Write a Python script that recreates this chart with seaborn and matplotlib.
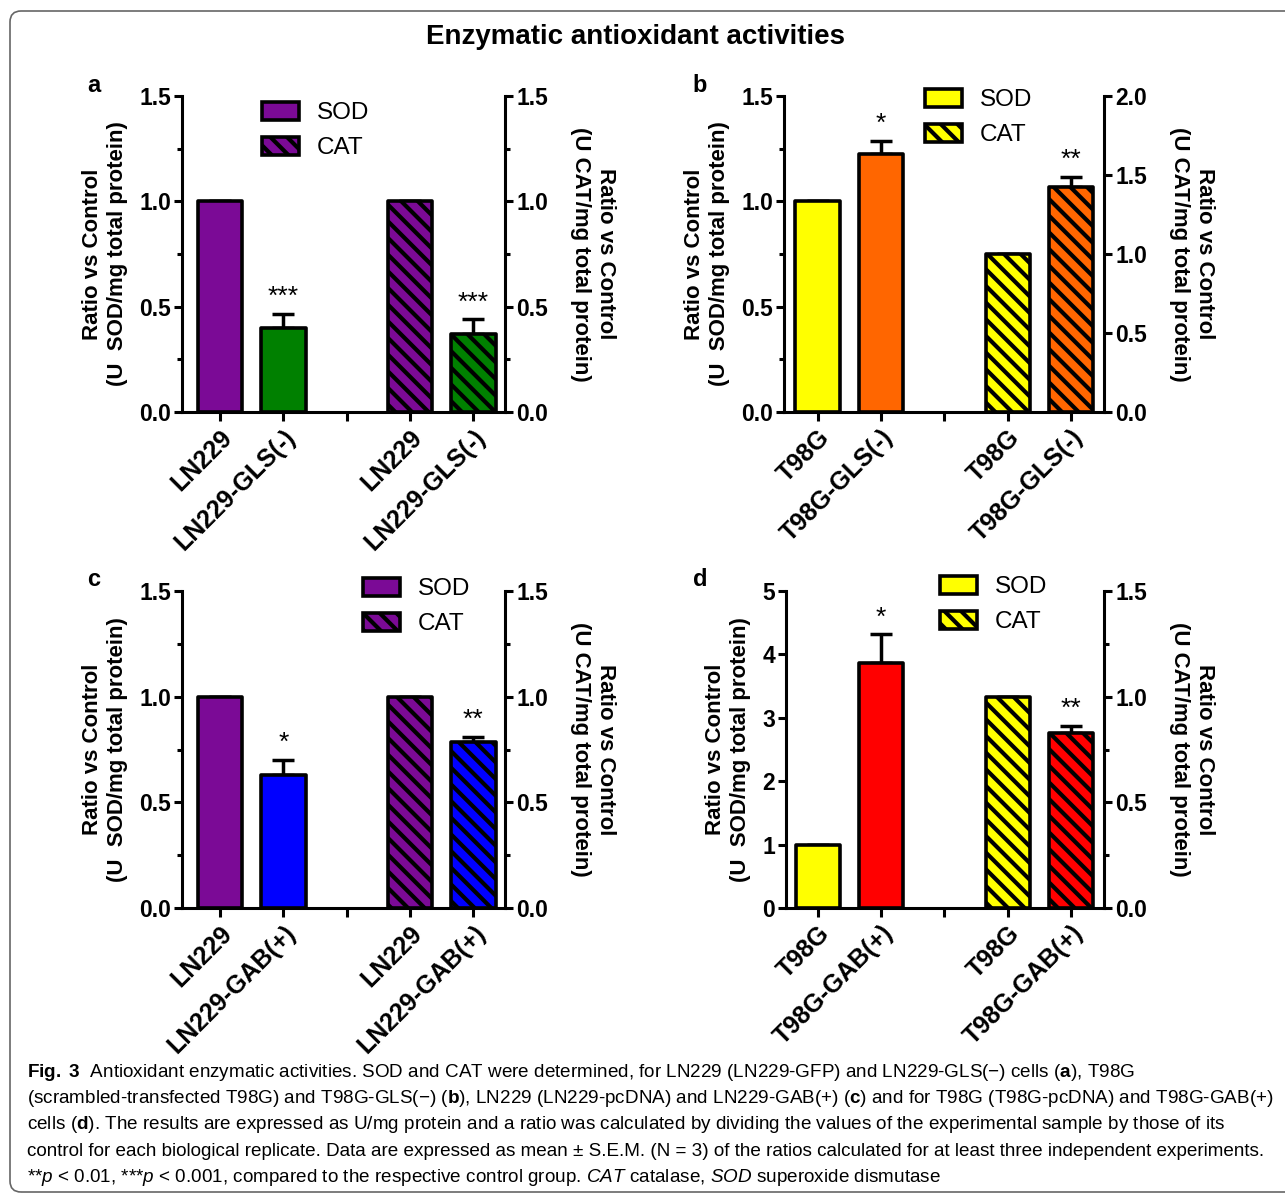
import matplotlib
matplotlib.use("Agg")
import numpy as np
import pandas as pd
import matplotlib.pyplot as plt
import seaborn as sns
from matplotlib.patches import Patch, FancyBboxPatch
from matplotlib.ticker import MultipleLocator, FormatStrFormatter
from matplotlib.transforms import IdentityTransform

# ---------------- data ----------------
a_groups = ["LN229", "LN229-GLS(-)"]
a_sod = [1.00, 0.40]
a_sod_sem = [0.00, 0.065]
a_cat = [1.00, 0.37]
a_cat_sem = [0.00, 0.07]
a_colors = ["#7B0A96", "#008000"]
a_stars = ["***", "***"]

b_groups = ["T98G", "T98G-GLS(-)"]
b_sod = [1.00, 1.225]
b_sod_sem = [0.00, 0.062]
b_cat = [1.00, 1.425]
b_cat_sem = [0.00, 0.063]
b_colors = ["#FFFF00", "#FF6600"]
b_stars = ["*", "**"]

c_groups = ["LN229", "LN229-GAB(+)"]
c_sod = [1.00, 0.63]
c_sod_sem = [0.00, 0.072]
c_cat = [1.00, 0.785]
c_cat_sem = [0.00, 0.025]
c_colors = ["#7B0A96", "#0000FF"]
c_stars = ["*", "**"]

d_groups = ["T98G", "T98G-GAB(+)"]
d_sod = [1.00, 3.87]
d_sod_sem = [0.00, 0.45]
d_cat = [1.00, 0.826]
d_cat_sem = [0.00, 0.035]
d_colors = ["#FFFF00", "#FF0000"]
d_stars = ["*", "**"]

legend_labels = ["SOD", "CAT"]
left_ylabel = "Ratio vs Control\n(U  SOD/mg total protein)"
right_ylabel = "Ratio vs Control\n(U CAT/mg total protein)"
title_text = "Enzymatic antioxidant activities"

caption_lines = [
    r"$\mathbf{Fig.\ 3}$  Antioxidant enzymatic activities. SOD and CAT were determined, for LN229 (LN229-GFP) and LN229-GLS(−) cells ($\mathbf{a}$), T98G",
    r"(scrambled-transfected T98G) and T98G-GLS(−) ($\mathbf{b}$), LN229 (LN229-pcDNA) and LN229-GAB(+) ($\mathbf{c}$) and for T98G (T98G-pcDNA) and T98G-GAB(+)",
    r"cells ($\mathbf{d}$). The results are expressed as U/mg protein and a ratio was calculated by dividing the values of the experimental sample by those of its",
    r"control for each biological replicate. Data are expressed as mean ± S.E.M. (N = 3) of the ratios calculated for at least three independent experiments.",
    r"**$\mathit{p}$ < 0.01, ***$\mathit{p}$ < 0.001, compared to the respective control group. $\mathit{CAT}$ catalase, $\mathit{SOD}$ superoxide dismutase",
]

# ---------------- style ----------------
sns.set_style("ticks")
plt.rcParams.update({
    "font.family": ["Liberation Sans", "DejaVu Sans"],
    "font.weight": "bold",
    "axes.labelweight": "bold",
    "axes.linewidth": 2.2,
    "axes.edgecolor": "black",
    "axes.labelcolor": "black",
    "text.color": "black",
    "xtick.color": "black",
    "ytick.color": "black",
    "hatch.linewidth": 3.0,
    "hatch.color": "black",
    "mathtext.fontset": "custom",
    "mathtext.rm": "Liberation Sans:weight=normal",
    "mathtext.it": "Liberation Sans:style=italic:weight=normal",
    "mathtext.bf": "Liberation Sans:weight=bold",
})

W, H = 1285, 1196
fig = plt.figure(figsize=(W / 100, H / 100), dpi=100)
fig.patch.set_facecolor("white")


def rect(l, t, r, b):
    return [l / W, 1 - b / H, (r - l) / W, (b - t) / H]


LW = 2.2
BAR_LW = 2.6
HATCH = "\\\\"
sod_pos = [0, 1]
cat_pos = [3, 4]


def panel(rc, letter, letter_xy, groups, sod, sod_sem, cat, cat_sem, colors, stars,
          lmax, lmaj, lmin, lfmt, rmax, rmaj, rmin, xlim, leg_xy):
    ax = fig.add_axes(rect(*rc))
    ax2 = ax.twinx()
    sns.barplot(x=sod_pos, y=sod, hue=groups, palette=colors, native_scale=True,
                dodge=False, width=0.7, edgecolor="black", linewidth=BAR_LW,
                saturation=1, errorbar=None, legend=False, ax=ax)
    sns.barplot(x=cat_pos, y=cat, hue=groups, palette=colors, native_scale=True,
                dodge=False, width=0.7, edgecolor="black", linewidth=BAR_LW,
                saturation=1, errorbar=None, legend=False, ax=ax2)
    for p in ax2.patches:
        p.set_hatch(HATCH)
    for p in list(ax.patches) + list(ax2.patches):
        p.set_joinstyle("round")

    for a_, pos, vals, errs in ((ax, sod_pos, sod, sod_sem), (ax2, cat_pos, cat, cat_sem)):
        a_.errorbar(pos, vals, yerr=[np.zeros(len(errs)), errs], fmt="none",
                    ecolor="black", elinewidth=LW + 0.3, capsize=8, capthick=LW + 0.3,
                    zorder=0.5)
    ax.annotate(stars[0], xy=(sod_pos[1], sod[1] + sod_sem[1]), xytext=(0, 7),
                textcoords="offset points", ha="center", va="baseline",
                fontsize=19, fontweight="normal")
    ax2.annotate(stars[1], xy=(cat_pos[1], cat[1] + cat_sem[1]), xytext=(0, 7),
                 textcoords="offset points", ha="center", va="baseline",
                 fontsize=19, fontweight="normal")

    # axes limits & ticks
    ax.set_xlim(*xlim)
    ax.set_ylim(0, lmax)
    ax2.set_ylim(0, rmax)
    ax.yaxis.set_major_locator(MultipleLocator(lmaj))
    if lmin:
        ax.yaxis.set_minor_locator(MultipleLocator(lmin))
    ax.yaxis.set_major_formatter(FormatStrFormatter(lfmt))
    ax2.yaxis.set_major_locator(MultipleLocator(rmaj))
    if rmin:
        ax2.yaxis.set_minor_locator(MultipleLocator(rmin))
    ax2.yaxis.set_major_formatter(FormatStrFormatter("%.1f"))

    ax.set_xticks([0, 1, 2, 3, 4])
    ax.set_xticklabels([groups[0], groups[1], "", groups[0], groups[1]],
                       rotation=45, ha="right", rotation_mode="anchor", fontsize=18)
    ax.tick_params(axis="x", which="major", length=6.5, width=LW, pad=3, direction="out")
    ax.tick_params(axis="x", which="minor", length=0)
    for a_ in (ax, ax2):
        a_.tick_params(axis="y", which="major", length=6, width=LW, pad=2,
                       labelsize=16.5, direction="out")
        a_.tick_params(axis="y", which="minor", length=3.5, width=LW, direction="out")

    for s in ("top", "right"):
        ax.spines[s].set_visible(False)
    for s in ("top", "left", "bottom"):
        ax2.spines[s].set_visible(False)
    ax.set_xlabel("")
    ax.set_ylabel(left_ylabel, fontsize=16, fontweight="bold", labelpad=8, linespacing=1.25)
    ax2.set_ylabel(right_ylabel, fontsize=16, fontweight="bold", labelpad=16,
                   linespacing=1.25, rotation=270, va="bottom")

    handles = [Patch(facecolor=colors[0], edgecolor="black", linewidth=BAR_LW,
                     joinstyle="round", label=legend_labels[0]),
               Patch(facecolor=colors[0], edgecolor="black", linewidth=BAR_LW,
                     joinstyle="round", hatch=HATCH, label=legend_labels[1])]
    ax2.legend(handles=handles, loc="upper left",
               bbox_to_anchor=(leg_xy[0] / W, 1 - leg_xy[1] / H),
               bbox_transform=fig.transFigure, frameon=False, borderpad=0,
               borderaxespad=0, handlelength=1.52, handleheight=0.74,
               handletextpad=0.74, labelspacing=0.53,
               prop={"size": 17.5, "weight": "normal"})

    fig.text(letter_xy[0] / W, 1 - letter_xy[1] / H, letter, fontsize=17,
             fontweight="bold", ha="center", va="center")


panel((182, 96, 505, 412), "a", (94, 85), a_groups, a_sod, a_sod_sem, a_cat, a_cat_sem,
      a_colors, a_stars, 1.5, 0.5, 0.25, "%.1f", 1.5, 0.5, 0.25, (-0.6, 4.5), (262, 102))
panel((784, 96, 1104, 412), "b", (700, 85), b_groups, b_sod, b_sod_sem, b_cat, b_cat_sem,
      b_colors, b_stars, 1.5, 0.5, 0.25, "%.1f", 2.0, 0.5, None, (-0.53, 4.52), (925, 89))
panel((182, 591, 505, 908), "c", (94, 580), c_groups, c_sod, c_sod_sem, c_cat, c_cat_sem,
      c_colors, c_stars, 1.5, 0.5, 0.25, "%.1f", 1.5, 0.5, 0.25, (-0.6, 4.5), (363, 578))
panel((786, 591, 1104, 908), "d", (700, 580), d_groups, d_sod, d_sod_sem, d_cat, d_cat_sem,
      d_colors, d_stars, 5, 1, None, "%d", 1.5, 0.5, 0.25, (-0.5, 4.52), (940, 576))

# title
fig.text(636 / W, 1 - 37 / H, title_text, fontsize=20, fontweight="bold",
         ha="center", va="center")

# caption
renderer = fig.canvas.get_renderer()
base_fs = 12.0
cap_texts = []
for i, line in enumerate(caption_lines):
    y = 1077 + i * 26.2
    t = fig.text(27 / W, 1 - y / H, line, fontsize=base_fs, fontweight="normal",
                 ha="left", va="baseline")
    cap_texts.append(t)
w4 = cap_texts[3].get_window_extent(renderer).width
fs = min(14.0, base_fs * 1245.0 / w4)
for t in cap_texts:
    t.set_fontsize(fs)

# rounded border
border = FancyBboxPatch((10, 4), 1320, 1181, boxstyle="round,pad=0,rounding_size=11",
                        transform=IdentityTransform(), facecolor="none",
                        edgecolor="#666666", linewidth=1.2)
fig.add_artist(border)

fig.savefig("out.png", dpi=100, facecolor="white")
